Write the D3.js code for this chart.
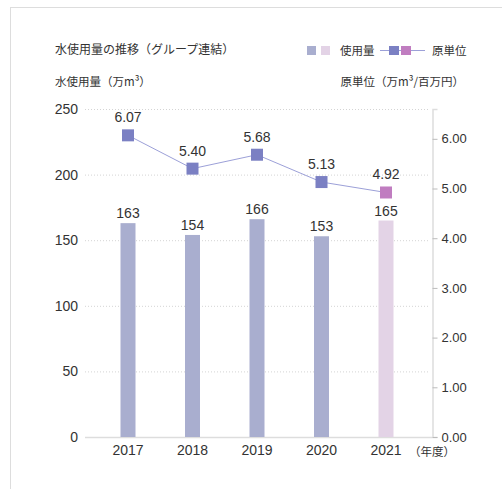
<!DOCTYPE html>
<html lang="ja">
<head>
    <meta charset="UTF-8">
    <script src="https://cdn.jsdelivr.net/npm/d3@7"></script>
    <title>水使用量の推移</title>
    <style>
        body { margin: 0; background: #fff; }
        text { font-family: "Noto Sans CJK JP", "Noto Sans", sans-serif; fill: #333; }
        .num { font-family: "Liberation Sans", "DejaVu Sans", sans-serif; }
    </style>
</head>
<body>
<svg width="502" height="489"></svg>

<script>
    const years   = ["2017", "2018", "2019", "2020", "2021"];
    const usage   = [163, 154, 166, 153, 165];
    const unitVal = [6.07, 5.40, 5.68, 5.13, 4.92];
    const leftTicks  = [0, 50, 100, 150, 200, 250];
    const rightTicks = [0, 1, 2, 3, 4, 5, 6];

    const barColor  = d => d === "2021" ? "#e3d3e6" : "#a9aecf";
    const markColor = d => d === "2021" ? "#c07dc0" : "#7b80c3";

    const svg = d3.select("svg");

    // frame
    svg.append("rect")
        .attr("x", 10.5).attr("y", 7.5)
        .attr("width", 600).attr("height", 600)
        .attr("fill", "none").attr("stroke", "#ddd");

    const x  = d3.scalePoint().domain(years).range([128, 386]);
    const yL = d3.scaleLinear().domain([0, 250]).range([437, 109]);
    const yR = d3.scaleLinear().domain([0, 6.6]).range([437, 109]);
    const barW = 15;

    // titles
    svg.append("text").attr("x", 55).attr("y", 54).attr("font-size", 12)
        .text("水使用量の推移（グループ連結）");
    svg.append("text").attr("x", 55).attr("y", 86).attr("font-size", 11.5)
        .text("水使用量（万m³）");
    svg.append("text").attr("x", 464).attr("y", 86).attr("font-size", 11.5)
        .attr("text-anchor", "end")
        .text("原単位（万m³/百万円）");

    // legend
    const lg = svg.append("g");
    lg.append("rect").attr("x", 307).attr("y", 46).attr("width", 9).attr("height", 9).attr("fill", "#a9aecf");
    lg.append("rect").attr("x", 321).attr("y", 46).attr("width", 9).attr("height", 9).attr("fill", "#e3d3e6");
    lg.append("text").attr("x", 340).attr("y", 55).attr("font-size", 11.5).text("使用量");
    lg.append("line").attr("x1", 380).attr("x2", 425).attr("y1", 50.5).attr("y2", 50.5)
        .attr("stroke", "#9ca0d8").attr("stroke-width", 1);
    lg.append("rect").attr("x", 389).attr("y", 46).attr("width", 10).attr("height", 9).attr("fill", "#7b80c3");
    lg.append("rect").attr("x", 401).attr("y", 46).attr("width", 10).attr("height", 9).attr("fill", "#c07dc0");
    lg.append("text").attr("x", 432).attr("y", 55).attr("font-size", 11.5).text("原単位");

    // grid
    svg.append("g").selectAll("line")
        .data(leftTicks.filter(d => d > 0))
        .join("line")
          .attr("x1", 85).attr("x2", 430)
          .attr("y1", d => yL(d) + 0.5).attr("y2", d => yL(d) + 0.5)
          .attr("stroke", "#d4d4d4").attr("stroke-dasharray", "1,2");

    // left axis labels
    svg.append("g").selectAll("text")
        .data(leftTicks)
        .join("text")
          .attr("class", "num")
          .attr("x", 78).attr("y", d => yL(d))
          .attr("dy", "0.35em")
          .attr("text-anchor", "end")
          .attr("font-size", 14)
          .text(d => d);

    // baseline and right axis
    svg.append("line").attr("x1", 85).attr("x2", 432)
        .attr("y1", yL(0) + 0.5).attr("y2", yL(0) + 0.5)
        .attr("stroke", "#ddd").attr("stroke-width", 1.5);

    const axR = d3.axisRight(yR).tickValues(rightTicks).tickFormat(d3.format(".2f")).tickSize(5).tickPadding(4);
    const gR = svg.append("g").attr("transform", "translate(432.5,0)").call(axR);
    gR.select(".domain").attr("stroke", "#ddd").attr("stroke-width", 1.5);
    gR.selectAll(".tick line").attr("stroke", "#bbb");
    gR.selectAll(".tick text").attr("class", "num").attr("font-size", 13).attr("fill", "#333");

    // bars
    svg.append("g").selectAll("rect")
        .data(years)
        .join("rect")
          .attr("x", d => x(d) - barW / 2)
          .attr("y", (d, i) => yL(usage[i]))
          .attr("width", barW)
          .attr("height", (d, i) => yL(0) - yL(usage[i]))
          .attr("fill", barColor);

    svg.append("g").selectAll("text")
        .data(years)
        .join("text")
          .attr("class", "num")
          .attr("x", d => x(d))
          .attr("y", (d, i) => yL(usage[i]) - 5)
          .attr("text-anchor", "middle")
          .attr("font-size", 14)
          .text((d, i) => usage[i]);

    // line
    const line = d3.line()
        .x(d => x(d))
        .y(d => yR(unitVal[years.indexOf(d)]));
    svg.append("path")
        .datum(years)
        .attr("d", line)
        .attr("fill", "none")
        .attr("stroke", "#9ca0d8")
        .attr("stroke-width", 1);

    svg.append("g").selectAll("rect")
        .data(years)
        .join("rect")
          .attr("x", d => x(d) - 6)
          .attr("y", (d, i) => yR(unitVal[i]) - 6)
          .attr("width", 12).attr("height", 12)
          .attr("fill", markColor);

    svg.append("g").selectAll("text")
        .data(years)
        .join("text")
          .attr("class", "num")
          .attr("x", d => x(d))
          .attr("y", (d, i) => yR(unitVal[i]) - 13)
          .attr("text-anchor", "middle")
          .attr("font-size", 14)
          .text((d, i) => d3.format(".2f")(unitVal[i]));

    // x labels
    svg.append("g").selectAll("text")
        .data(years)
        .join("text")
          .attr("class", "num")
          .attr("x", d => x(d))
          .attr("y", 455)
          .attr("text-anchor", "middle")
          .attr("font-size", 14)
          .text(d => d);
    svg.append("text").attr("x", 409).attr("y", 456).attr("font-size", 11.5).text("（年度）");
</script>

</body>
</html>
